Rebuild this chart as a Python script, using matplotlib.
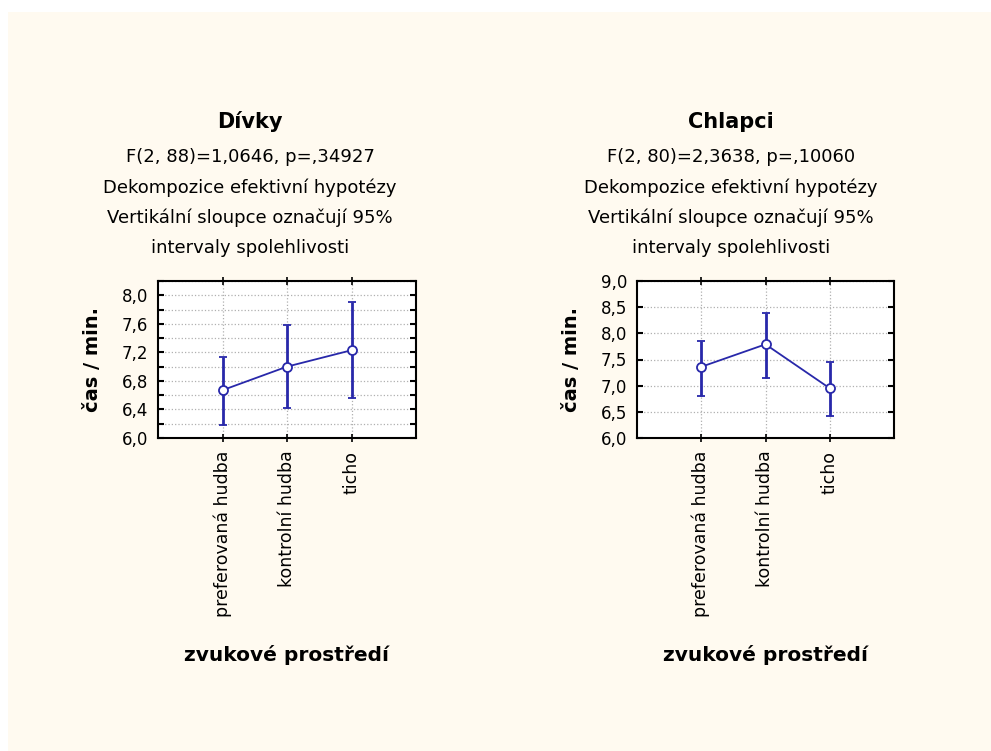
import matplotlib.pyplot as plt
from matplotlib.patches import Rectangle
from matplotlib.ticker import MultipleLocator, FormatStrFormatter

# kategorie a hodnoty (průměr, dolní a horní mez 95% IS)
kategorie = ["preferovaná hudba", "kontrolní hudba", "ticho"]

divky_prumer = [6.67, 7.00, 7.23]
divky_dolni = [6.18, 6.42, 6.56]
divky_horni = [7.14, 7.59, 7.90]

chlapci_prumer = [7.36, 7.79, 6.95]
chlapci_dolni = [6.80, 7.14, 6.42]
chlapci_horni = [7.85, 8.39, 7.46]

titulky = ["Dívky", "Chlapci"]
statistiky = ["F(2, 88)=1,0646, p=,34927", "F(2, 80)=2,3638, p=,10060"]
popis = ["Dekompozice efektivní hypotézy",
         "Vertikální sloupce označují 95%",
         "intervaly spolehlivosti"]

W, H = 991, 751
modra = "#2828aa"
krem = "#fffaf0"

fig = plt.figure(figsize=(W / 100, H / 100), dpi=100)
fig.patch.set_facecolor("white")
fig.patches.append(Rectangle((8 / W, 0), 1, 1 - 12 / H, transform=fig.transFigure,
                             facecolor=krem, edgecolor="none", zorder=-10))


def px_ax(x0, y0, x1, y1):
    return fig.add_axes([x0 / W, 1 - y1 / H, (x1 - x0) / W, (y1 - y0) / H])


def nakresli(ax, prumer, dolni, horni, ylim, major, minor, fmt):
    x = list(range(len(kategorie)))
    err = [[p - d for p, d in zip(prumer, dolni)], [h - p for p, h in zip(prumer, horni)]]
    ax.errorbar(x, prumer, yerr=err, color=modra, lw=1.3, elinewidth=2, capsize=3,
                capthick=2, marker="o", ms=6.5, mfc="white", mec=modra, mew=1.3, zorder=5)
    ax.set_xlim(-1, 3)
    ax.set_ylim(*ylim)
    ax.set_facecolor("white")
    ax.yaxis.set_major_locator(MultipleLocator(major))
    ax.yaxis.set_minor_locator(MultipleLocator(minor))
    ax.yaxis.set_major_formatter(FormatStrFormatter(fmt))
    ax.set_yticklabels([t.get_text().replace(".", ",") for t in ax.get_yticklabels()])
    ax.set_xticks(x)
    ax.set_xticklabels(kategorie, rotation=90, fontsize=12.5)
    ax.grid(True, which="both", axis="y", linestyle=":", color="#b0b0b0", lw=0.9)
    ax.grid(True, axis="x", linestyle=":", color="#b0b0b0", lw=0.9)
    ax.tick_params(axis="y", which="both", direction="in", left=True, right=True,
                   length=4, width=1.5, labelsize=12, pad=7)
    ax.tick_params(axis="x", direction="inout", top=True, length=6, width=1.2, pad=6)
    for s in ax.spines.values():
        s.set_linewidth(1.5)
    ax.set_ylabel("čas / min.", fontsize=14, fontweight="bold", labelpad=14)
    ax.set_xlabel("zvukové prostředí", fontsize=14.5, fontweight="bold", labelpad=20)


ax1 = px_ax(158, 281, 416, 438)
nakresli(ax1, divky_prumer, divky_dolni, divky_horni, (6.0, 8.2), 0.4, 0.2, "%.1f")
ax2 = px_ax(637, 281, 894, 438)
nakresli(ax2, chlapci_prumer, chlapci_dolni, chlapci_horni, (6.0, 9.0), 0.5, 0.5, "%.1f")

for cx, titul, stat in zip([250, 731], titulky, statistiky):
    fig.text(cx / W, 1 - 122 / H, titul, ha="center", va="center", fontsize=15, fontweight="bold")
    fig.text(cx / W, 1 - 157 / H, stat, ha="center", va="center", fontsize=13)
    for i, radek in enumerate(popis):
        fig.text(cx / W, 1 - (188 + 30 * i) / H, radek, ha="center", va="center", fontsize=13)

fig.savefig("out.png", dpi=100, facecolor=fig.get_facecolor())
